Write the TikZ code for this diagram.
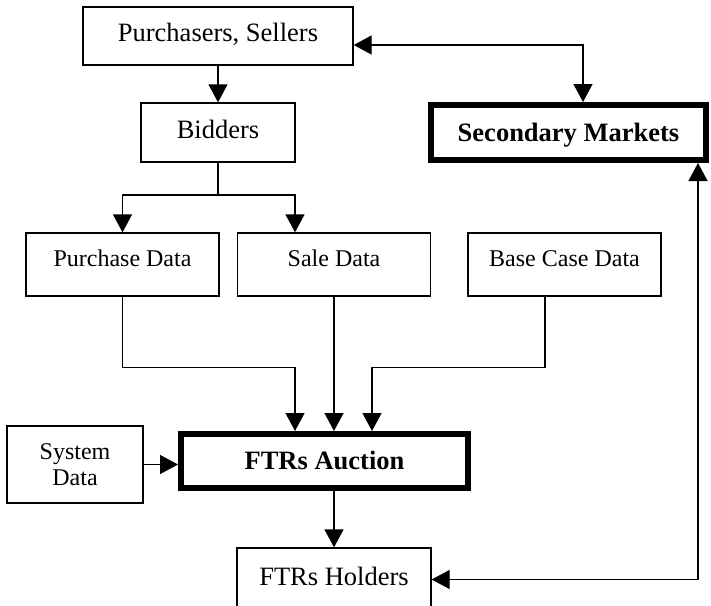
\documentclass[tikz,border=0pt]{standalone}
\usepackage{fontspec}
\setmainfont{Liberation Serif}
\usetikzlibrary{arrows.meta,calc}
\newcommand{\grande}{\fontsize{26.5}{30}\selectfont}
\newcommand{\chico}{\fontsize{24}{26}\selectfont}

\begin{document}
\begin{tikzpicture}[x=1pt, y=-1pt,
  base/.style={draw, line width=1.3pt, inner sep=0pt, align=center},
  caja/.style={base, font=\grande, text height=18pt, text depth=7pt},
  dato/.style={base, font=\chico, text height=16pt, text depth=13pt,
               minimum width=193pt, minimum height=63pt},
  clave/.style={base, line width=6pt, font=\grande\bfseries,
                text height=18pt, text depth=1pt},
  flecha/.style={-{Triangle[length=18pt,width=19pt]}, line width=1.3pt},
  doble/.style={{Triangle[length=18pt,width=19pt]}-{Triangle[length=18pt,width=19pt]},
                line width=1.3pt}]
  \useasboundingbox (0,0) rectangle (711,605);
  \clip (0,0) rectangle (711,605);
  \node[caja, minimum width=270pt, minimum height=58pt] (pursel) at (218,36) {Purchasers, Sellers};
  \node[caja, minimum width=154pt, minimum height=59pt] (bidders) at (218,132.5) {Bidders};
  \node[clave, minimum width=275pt, minimum height=55pt] (secmkt) at (568.5,132.5) {Secondary Markets};
  \node[dato] (purdata) at (122.5,264.5) {Purchase Data};
  \node[dato] (saledata) at (334,264.5) {Sale Data};
  \node[dato] (basedata) at (564.5,264.5) {Base Case Data};
  \node[base, font=\chico, minimum width=136pt, minimum height=77pt] (sysdata) at (75,464.5) {System\\Data};
  \node[clave, minimum width=287pt, minimum height=54pt] (auction) at (324.5,461) {FTRs Auction};
  \node[caja, minimum width=194pt, minimum height=63pt] (holders) at (334,579.5) {FTRs Holders};
  \coordinate (split) at (218,195);
  \draw[flecha] (pursel) -- (bidders);
  \draw[doble] ([yshift=-9pt]pursel.east) -| ([xshift=14.5pt]secmkt.north);
  \draw[line width=1.3pt] (bidders) -- (split);
  \draw[flecha] (split) -| (purdata);
  \draw[flecha] (split) -| ([xshift=-39pt]saledata.north);
  \draw[flecha] (purdata.south) -- ++(0,71) -| ([xshift=-29.5pt]auction.north);
  \draw[flecha] (saledata) -- (saledata |- auction.north);
  \draw[flecha] ([xshift=-19.5pt]basedata.south) -- ++(0,71) -| ([xshift=47.5pt]auction.north);
  \draw[flecha] (sysdata) -- (sysdata -| auction.west);
  \draw[flecha] (holders |- auction.south) -- (holders);
  \draw[doble] (holders.east) -| ([xshift=129.5pt]secmkt.south);
\end{tikzpicture}
\end{document}
